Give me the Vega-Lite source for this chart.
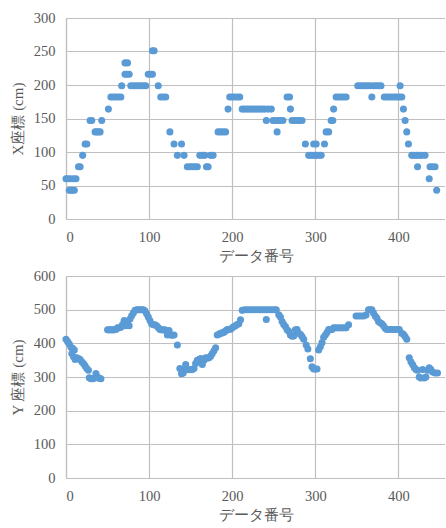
{
"$schema": "https://vega.github.io/schema/vega-lite/v6.json",
"background": "white",
"padding": {"left": 10, "top": 10, "right": 0, "bottom": 0},
"bounds": "flush",
"spacing": 57,
"config": {
  "font": "DejaVu Serif",
  "view": {"stroke": null},
  "axis": {"gridColor": "#BFBFBF", "gridWidth": 1.2, "domainColor": "#BFBFBF", "domainWidth": 1.2, "ticks": false,
    "labelFontSize": 14.5, "labelColor": "#595959", "labelPadding": 11,
    "titleFontSize": 15, "titleFontWeight": "normal", "titleColor": "#595959"}
},
"datasets": {
"xs": [
{"n":0,"X":60},{"n":2,"X":60},{"n":5,"X":60},{"n":9,"X":60},{"n":12,"X":60},
{"n":4,"X":43},{"n":6,"X":43},{"n":8,"X":43},{"n":10,"X":43},
{"n":15,"X":78},{"n":17,"X":78},{"n":20,"X":95},{"n":23,"X":112},{"n":25,"X":112},{"n":29,"X":147},{"n":31,"X":147},
{"n":35,"X":130},{"n":37,"X":130},{"n":39,"X":130},{"n":41,"X":130},{"n":43,"X":147},{"n":51,"X":164},
{"n":54,"X":182},{"n":57,"X":182},{"n":60,"X":182},{"n":63,"X":182},{"n":66,"X":182},{"n":67,"X":199},
{"n":71,"X":216},{"n":73,"X":216},{"n":76,"X":216},{"n":71,"X":233},{"n":74,"X":233},
{"n":78,"X":199},{"n":81,"X":199},{"n":84,"X":199},{"n":87,"X":199},{"n":90,"X":199},{"n":93,"X":199},{"n":96,"X":199},
{"n":99,"X":216},{"n":102,"X":216},{"n":104,"X":216},{"n":104,"X":251},{"n":106,"X":251},
{"n":111,"X":199},{"n":114,"X":182},{"n":117,"X":182},{"n":120,"X":182},
{"n":125,"X":130},{"n":130,"X":112},{"n":134,"X":95},{"n":139,"X":112},{"n":142,"X":95},
{"n":146,"X":78},{"n":149,"X":78},{"n":152,"X":78},{"n":155,"X":78},{"n":158,"X":78},
{"n":161,"X":95},{"n":164,"X":95},{"n":167,"X":95},{"n":169,"X":78},{"n":171,"X":78},{"n":174,"X":95},{"n":177,"X":95},
{"n":183,"X":130},{"n":186,"X":130},{"n":189,"X":130},{"n":192,"X":130},{"n":195,"X":164},
{"n":197,"X":182},{"n":200,"X":182},{"n":203,"X":182},{"n":206,"X":182},{"n":209,"X":182},
{"n":212,"X":164},{"n":215,"X":164},{"n":218,"X":164},{"n":221,"X":164},{"n":224,"X":164},{"n":227,"X":164},{"n":230,"X":164},{"n":233,"X":164},{"n":236,"X":164},{"n":239,"X":164},{"n":243,"X":164},{"n":247,"X":164},
{"n":241,"X":147},{"n":249,"X":147},{"n":252,"X":147},{"n":255,"X":147},{"n":258,"X":147},{"n":261,"X":147},{"n":254,"X":130},
{"n":266,"X":182},{"n":269,"X":182},{"n":270,"X":164},{"n":272,"X":147},{"n":275,"X":147},{"n":278,"X":147},{"n":281,"X":147},{"n":284,"X":147},
{"n":288,"X":112},{"n":292,"X":95},{"n":295,"X":95},{"n":298,"X":95},{"n":301,"X":95},{"n":304,"X":95},{"n":307,"X":95},{"n":298,"X":112},{"n":301,"X":112},{"n":311,"X":112},
{"n":313,"X":130},{"n":316,"X":130},{"n":319,"X":147},{"n":321,"X":147},{"n":322,"X":164},
{"n":325,"X":182},{"n":328,"X":182},{"n":331,"X":182},{"n":334,"X":182},{"n":337,"X":182},
{"n":351,"X":199},{"n":354,"X":199},{"n":357,"X":199},{"n":360,"X":199},{"n":363,"X":199},{"n":366,"X":199},{"n":370,"X":199},{"n":373,"X":199},{"n":376,"X":199},{"n":379,"X":199},{"n":368,"X":182},
{"n":383,"X":182},{"n":386,"X":182},{"n":389,"X":182},{"n":392,"X":182},{"n":395,"X":182},{"n":398,"X":182},{"n":401,"X":182},{"n":404,"X":182},{"n":402,"X":199},
{"n":406,"X":164},{"n":408,"X":147},{"n":410,"X":130},{"n":412,"X":112},
{"n":416,"X":95},{"n":419,"X":95},{"n":422,"X":95},{"n":425,"X":95},{"n":428,"X":95},{"n":432,"X":95},{"n":423,"X":78},
{"n":438,"X":78},{"n":441,"X":78},{"n":444,"X":78},{"n":437,"X":60},{"n":446,"X":43}
],
"ys": [
{"n":0,"Y":412},{"n":2,"Y":405},{"n":4,"Y":398},{"n":6,"Y":388},{"n":8,"Y":385},{"n":10,"Y":380},{"n":7,"Y":370},{"n":9,"Y":360},{"n":11,"Y":352},{"n":13,"Y":357},{"n":15,"Y":355},{"n":17,"Y":352},{"n":19,"Y":345},{"n":21,"Y":340},{"n":23,"Y":333},{"n":25,"Y":325},{"n":27,"Y":320},{"n":28,"Y":298},{"n":30,"Y":295},{"n":32,"Y":295},{"n":34,"Y":296},{"n":36,"Y":310},{"n":38,"Y":300},{"n":40,"Y":296},{"n":42,"Y":295},
{"n":50,"Y":440},{"n":52,"Y":440},{"n":54,"Y":440},{"n":56,"Y":440},{"n":58,"Y":440},{"n":60,"Y":441},{"n":62,"Y":446},{"n":64,"Y":446},{"n":66,"Y":448},{"n":68,"Y":456},{"n":70,"Y":468},{"n":72,"Y":452},{"n":74,"Y":465},{"n":76,"Y":452},{"n":77,"Y":472},{"n":79,"Y":482},{"n":81,"Y":490},{"n":83,"Y":498},{"n":85,"Y":500},{"n":87,"Y":500},{"n":89,"Y":500},{"n":91,"Y":500},{"n":93,"Y":500},{"n":95,"Y":497},{"n":97,"Y":488},{"n":99,"Y":478},{"n":101,"Y":468},{"n":103,"Y":458},{"n":105,"Y":455},{"n":107,"Y":455},{"n":109,"Y":452},{"n":111,"Y":447},{"n":113,"Y":441},{"n":115,"Y":440},{"n":117,"Y":440},{"n":119,"Y":440},{"n":121,"Y":437},{"n":122,"Y":425},{"n":124,"Y":438},{"n":126,"Y":425},{"n":128,"Y":424},{"n":130,"Y":425},{"n":134,"Y":395},
{"n":137,"Y":325},{"n":139,"Y":310},{"n":141,"Y":312},{"n":142,"Y":322},{"n":144,"Y":337},{"n":146,"Y":322},{"n":148,"Y":322},{"n":150,"Y":322},{"n":152,"Y":322},{"n":154,"Y":325},{"n":156,"Y":340},{"n":158,"Y":350},{"n":160,"Y":352},{"n":162,"Y":355},{"n":164,"Y":337},{"n":166,"Y":350},{"n":168,"Y":357},{"n":170,"Y":356},{"n":172,"Y":357},{"n":174,"Y":362},{"n":176,"Y":370},{"n":178,"Y":378},{"n":180,"Y":387},{"n":182,"Y":425},{"n":184,"Y":427},{"n":186,"Y":430},{"n":188,"Y":431},{"n":190,"Y":433},{"n":192,"Y":437},{"n":194,"Y":441},{"n":196,"Y":441},{"n":198,"Y":442},{"n":200,"Y":446},{"n":202,"Y":450},{"n":204,"Y":452},{"n":206,"Y":456},{"n":208,"Y":458},{"n":210,"Y":470},{"n":212,"Y":498},
{"n":215,"Y":500},{"n":218,"Y":500},{"n":221,"Y":500},{"n":224,"Y":500},{"n":227,"Y":500},{"n":230,"Y":500},{"n":233,"Y":500},{"n":236,"Y":500},{"n":239,"Y":500},{"n":242,"Y":500},{"n":245,"Y":500},{"n":248,"Y":500},{"n":251,"Y":500},{"n":253,"Y":500},{"n":241,"Y":471},{"n":256,"Y":485},{"n":258,"Y":478},{"n":260,"Y":465},{"n":262,"Y":456},{"n":264,"Y":450},{"n":266,"Y":440},{"n":268,"Y":436},{"n":270,"Y":425},{"n":272,"Y":421},{"n":274,"Y":422},{"n":276,"Y":440},{"n":278,"Y":441},{"n":280,"Y":430},{"n":282,"Y":427},{"n":284,"Y":420},{"n":286,"Y":412},{"n":289,"Y":395},{"n":291,"Y":383},{"n":294,"Y":354},{"n":296,"Y":330},{"n":298,"Y":324},{"n":300,"Y":324},{"n":302,"Y":324},{"n":304,"Y":380},{"n":306,"Y":390},{"n":308,"Y":402},{"n":310,"Y":418},{"n":312,"Y":425},{"n":314,"Y":432},{"n":316,"Y":441},{"n":318,"Y":441},{"n":320,"Y":441},{"n":322,"Y":446},{"n":325,"Y":446},{"n":328,"Y":446},{"n":331,"Y":446},{"n":334,"Y":446},{"n":337,"Y":446},{"n":340,"Y":455},
{"n":349,"Y":481},{"n":352,"Y":481},{"n":355,"Y":481},{"n":358,"Y":481},{"n":361,"Y":484},{"n":364,"Y":500},{"n":366,"Y":500},{"n":368,"Y":500},{"n":370,"Y":490},{"n":372,"Y":481},{"n":374,"Y":475},{"n":376,"Y":465},{"n":378,"Y":461},{"n":380,"Y":458},{"n":382,"Y":452},{"n":384,"Y":445},{"n":386,"Y":441},{"n":389,"Y":441},{"n":392,"Y":441},{"n":395,"Y":441},{"n":398,"Y":441},{"n":401,"Y":441},{"n":404,"Y":430},{"n":406,"Y":427},{"n":408,"Y":420},{"n":410,"Y":412},{"n":413,"Y":357},{"n":415,"Y":345},{"n":417,"Y":337},{"n":419,"Y":328},{"n":421,"Y":322},{"n":423,"Y":320},{"n":425,"Y":300},{"n":427,"Y":297},{"n":429,"Y":322},{"n":431,"Y":297},{"n":433,"Y":300},{"n":435,"Y":320},{"n":437,"Y":327},{"n":439,"Y":322},{"n":441,"Y":315},{"n":444,"Y":312},{"n":447,"Y":312}
]
},
"vconcat": [
{
  "width": 379, "height": 201,
  "data": {"name": "xs"},
  "mark": {"type": "circle", "size": 50, "opacity": 1, "color": "#5B9BD5"},
  "encoding": {
    "x": {"field": "n", "type": "quantitative", "scale": {"domain": [0, 456], "nice": false, "zero": false},
      "axis": {"values": [0, 100, 200, 300, 400], "title": "データ番号", "titlePadding": 5, "labelFont": "Liberation Serif", "titleFont": "Liberation Serif"}},
    "y": {"field": "X", "type": "quantitative", "scale": {"domain": [0, 300], "nice": false},
      "axis": {"values": [0, 50, 100, 150, 200, 250, 300], "title": "X座標 (cm)", "titlePadding": 8, "labelFont": "Liberation Serif", "titleFont": "Liberation Serif"}}
  }
},
{
  "width": 379, "height": 202,
  "data": {"name": "ys"},
  "mark": {"type": "circle", "size": 50, "opacity": 1, "color": "#5B9BD5"},
  "encoding": {
    "x": {"field": "n", "type": "quantitative", "scale": {"domain": [0, 456], "nice": false, "zero": false},
      "axis": {"values": [0, 100, 200, 300, 400], "title": "データ番号", "titlePadding": 5, "labelFont": "Liberation Serif", "titleFont": "Liberation Serif"}},
    "y": {"field": "Y", "type": "quantitative", "scale": {"domain": [0, 600], "nice": false},
      "axis": {"values": [0, 100, 200, 300, 400, 500, 600], "title": "Y 座標 (cm)", "titlePadding": 8, "labelFont": "Liberation Serif", "titleFont": "Liberation Serif"}}
  }
}
]
}
